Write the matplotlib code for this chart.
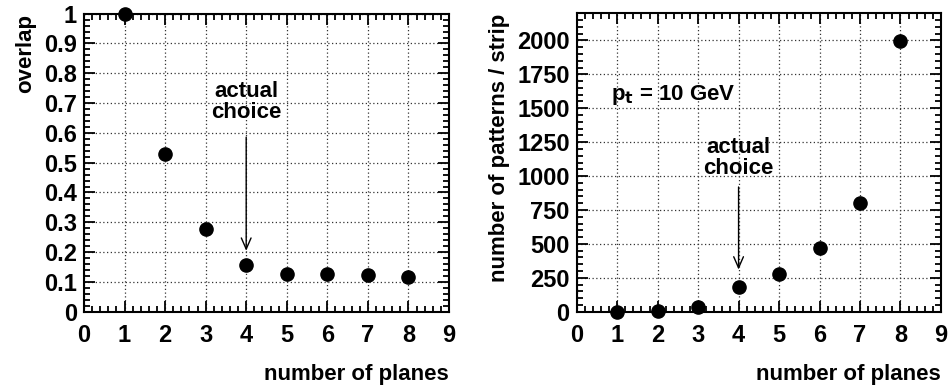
import matplotlib
matplotlib.use("Agg")
import matplotlib.pyplot as plt
from matplotlib.ticker import MultipleLocator

planes = [1, 2, 3, 4, 5, 6, 7, 8]
overlap = [1.0, 0.529, 0.277, 0.158, 0.127, 0.127, 0.123, 0.118]
patterns = [0, 5, 32, 183, 281, 467, 798, 1996]

plt.rcParams['font.family'] = ['Liberation Sans', 'DejaVu Sans']
plt.rcParams['font.weight'] = 'bold'

fig = plt.figure(figsize=(9.5, 3.87), dpi=100)
ax1 = fig.add_axes([0.0884, 0.1946, 0.3842, 0.770])
ax2 = fig.add_axes([0.607, 0.1946, 0.3835, 0.771])

def style(ax, ymaj, ymin):
    ax.set_xlim(0, 9)
    ax.xaxis.set_major_locator(MultipleLocator(1))
    ax.xaxis.set_minor_locator(MultipleLocator(0.2))
    ax.yaxis.set_major_locator(MultipleLocator(ymaj))
    ax.yaxis.set_minor_locator(MultipleLocator(ymin))
    ax.tick_params(which='both', direction='in', top=True, right=True, width=1.3, labelsize=17)
    ax.tick_params(which='major', length=8)
    ax.tick_params(which='minor', length=4.5)
    ax.tick_params(axis='x', pad=9)
    ax.tick_params(axis='y', pad=5)
    for s in ax.spines.values():
        s.set_linewidth(1.5)
    ax.grid(True, which='major', linestyle=(0, (1, 2)), color='#333333', linewidth=0.9)
    ax.set_axisbelow(True)
    for lab in ax.get_xticklabels() + ax.get_yticklabels():
        lab.set_fontweight('bold')

# Left panel
ax1.plot(planes, overlap, 'o', color='black', markersize=9.5, clip_on=False, zorder=3)
ax1.set_ylim(0, 1)
style(ax1, 0.1, 0.02)
ax1.set_yticklabels([f"{v:g}" for v in ax1.get_yticks()])
ax1.set_xlabel('number of planes', fontsize=16, fontweight='bold', loc='right', labelpad=12)
ax1.set_ylabel('overlap', fontsize=16, fontweight='bold', loc='top', labelpad=6)
ax1.text(4, 0.705, 'actual\nchoice', ha='center', va='center', fontsize=16, fontweight='bold', linespacing=1.0)
ax1.annotate('', xy=(4, 0.195), xytext=(4, 0.595),
             arrowprops=dict(arrowstyle='->,head_length=0.8,head_width=0.35', color='black', lw=1.0))

# Right panel
ax2.plot(planes, patterns, 'o', color='black', markersize=9.5, clip_on=False, zorder=3)
ax2.set_ylim(0, 2200)
style(ax2, 250, 50)
ax2.set_xlabel('number of planes', fontsize=16, fontweight='bold', loc='right', labelpad=12)
ax2.set_ylabel('number of patterns / strip', fontsize=16, fontweight='bold', loc='top', labelpad=5)
ax2.text(4, 1130, 'actual\nchoice', ha='center', va='center', fontsize=16, fontweight='bold', linespacing=1.0)
ax2.annotate('', xy=(4, 290), xytext=(4, 940),
             arrowprops=dict(arrowstyle='->,head_length=0.8,head_width=0.35', color='black', lw=1.0))
ax2.text(0.85, 1600, r'p$_\mathbf{t}$ = 10 GeV', ha='left', va='center', fontsize=16, fontweight='bold')

fig.savefig('out.png', dpi=100)
